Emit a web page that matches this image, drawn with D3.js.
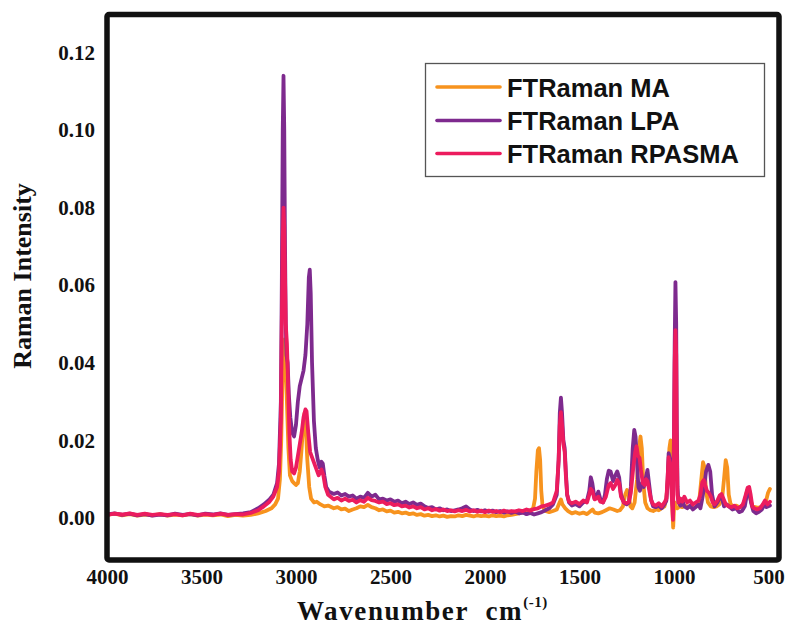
<!DOCTYPE html>
<html>
<head>
<meta charset="utf-8">
<script src="https://cdn.jsdelivr.net/npm/d3@7"></script>
<style>
  html, body { margin: 0; padding: 0; background: #fff; }
  svg { display: block; }
</style>
</head>
<body>
<svg id="chart" width="788" height="627"></svg>
<script>
// FT-Raman spectra: [wavenumber (cm-1), intensity]
const maSpectrum = [
  [4000,0.0008],[3960,0.0011],[3920,0.0007],[3880,0.001],[3840,0.0006],[3800,0.0009],[3760,0.0007],[3720,0.001],
  [3680,0.0006],[3640,0.0009],[3600,0.0007],[3560,0.001],[3520,0.0006],[3480,0.0009],[3440,0.0007],[3400,0.0009],
  [3360,0.0005],[3320,0.0008],[3280,0.0006],[3240,0.0008],[3200,0.0012],[3160,0.0018],[3130,0.0025],[3110,0.0035],
  [3095,0.005],[3085,0.01],[3078,0.02],[3072,0.035],[3066,0.045],[3060,0.046],[3055,0.04],[3048,0.03],[3040,0.018],
  [3032,0.011],[3020,0.0095],[3010,0.009],[3000,0.0085],[2990,0.009],[2980,0.012],[2970,0.018],[2962,0.024],
  [2955,0.027],[2948,0.024],[2940,0.015],[2930,0.008],[2920,0.005],[2905,0.004],[2890,0.0042],[2870,0.0035],
  [2850,0.003],[2830,0.0032],[2800,0.0025],[2780,0.0028],[2760,0.0022],[2740,0.0024],[2720,0.0018],[2700,0.0022],
  [2680,0.0025],[2660,0.003],[2640,0.0028],[2620,0.0034],[2600,0.0028],[2580,0.0025],[2560,0.002],[2540,0.0022],
  [2520,0.0017],[2500,0.0019],[2480,0.0014],[2460,0.0016],[2440,0.0012],[2420,0.0014],[2400,0.001],[2380,0.0012],
  [2360,0.0008],[2340,0.001],[2320,0.0006],[2300,0.0008],[2280,0.0005],[2260,0.0007],[2240,0.0004],[2220,0.0006],
  [2200,0.0003],[2180,0.0005],[2160,0.0004],[2140,0.0007],[2120,0.0005],[2100,0.0008],[2080,0.0006],[2060,0.0004],
  [2040,0.0007],[2020,0.0005],[2000,0.0006],[1980,0.0004],[1960,0.0007],[1940,0.0005],[1920,0.0006],[1900,0.0004],
  [1880,0.0007],[1860,0.0008],[1840,0.001],[1820,0.0012],[1800,0.0015],[1780,0.0018],[1760,0.002],[1745,0.0025],
  [1735,0.005],[1728,0.012],[1720,0.0175],[1714,0.018],[1708,0.015],[1702,0.007],[1695,0.003],[1680,0.0018],
  [1660,0.0015],[1640,0.0018],[1620,0.0022],[1605,0.004],[1598,0.0048],[1590,0.0035],[1575,0.0025],[1560,0.0018],
  [1540,0.0012],[1520,0.0015],[1500,0.0011],[1480,0.0014],[1460,0.001],[1440,0.0018],[1430,0.0022],[1420,0.0014],
  [1400,0.0012],[1380,0.0015],[1360,0.002],[1340,0.0025],[1320,0.0022],[1300,0.0018],[1285,0.002],[1270,0.003],
  [1258,0.006],[1248,0.0072],[1240,0.006],[1230,0.003],[1220,0.0025],[1208,0.004],[1195,0.01],[1185,0.018],
  [1177,0.021],[1170,0.018],[1162,0.009],[1152,0.004],[1140,0.0025],[1125,0.002],[1110,0.0018],[1095,0.0022],
  [1080,0.002],[1065,0.0025],[1050,0.003],[1040,0.005],[1032,0.01],[1024,0.018],[1018,0.02],[1012,0.012],
  [1008,0.002],[1004,-0.0025],[1000,0.002],[996,0.004],[990,0.003],[982,0.0025],[970,0.003],[955,0.0028],
  [940,0.0032],[925,0.0028],[910,0.003],[895,0.0026],[880,0.003],[865,0.005],[855,0.01],[846,0.0144],
  [838,0.013],[830,0.007],[820,0.004],[805,0.003],[790,0.0028],[775,0.003],[760,0.0035],[745,0.005],
  [735,0.01],[726,0.0149],[718,0.013],[710,0.006],[700,0.0035],[685,0.003],[670,0.0032],[655,0.0028],
  [640,0.003],[625,0.0045],[612,0.0072],[604,0.0075],[596,0.005],[585,0.003],[570,0.0028],[555,0.0026],
  [540,0.0028],[525,0.003],[512,0.0045],[502,0.0065],[492,0.0075]
];

const lpaSpectrum = [
  [4000,0.0009],[3960,0.0012],[3920,0.0008],[3880,0.0011],[3840,0.0007],[3800,0.001],[3760,0.0006],[3720,0.0009],
  [3680,0.0007],[3640,0.0011],[3600,0.0008],[3560,0.001],[3520,0.0007],[3480,0.0011],[3440,0.0009],[3400,0.0012],
  [3360,0.0008],[3320,0.001],[3280,0.0012],[3240,0.0015],[3200,0.0025],[3170,0.0035],[3140,0.0048],[3120,0.006],
  [3100,0.009],[3090,0.014],[3080,0.03],[3075,0.06],[3070,0.1],[3066,0.114],[3062,0.1],[3058,0.07],[3054,0.05],
  [3050,0.042],[3044,0.04],[3038,0.032],[3030,0.026],[3020,0.022],[3010,0.021],[3000,0.024],[2990,0.03],
  [2980,0.034],[2970,0.036],[2960,0.038],[2950,0.042],[2940,0.05],[2932,0.062],[2927,0.064],[2922,0.058],
  [2915,0.04],[2905,0.025],[2895,0.018],[2885,0.015],[2875,0.013],[2865,0.0145],[2858,0.014],[2850,0.011],
  [2840,0.008],[2825,0.0068],[2800,0.0062],[2780,0.0066],[2760,0.0058],[2740,0.0062],[2720,0.0055],[2700,0.0058],
  [2680,0.005],[2660,0.0055],[2640,0.0052],[2620,0.0065],[2600,0.0055],[2580,0.006],[2560,0.0048],[2540,0.005],
  [2520,0.0045],[2500,0.0048],[2480,0.0042],[2460,0.0045],[2440,0.0038],[2420,0.0042],[2400,0.0036],[2380,0.004],
  [2360,0.0034],[2340,0.0037],[2320,0.003],[2300,0.0026],[2280,0.0028],[2260,0.0022],[2240,0.0025],[2220,0.002],
  [2200,0.0022],[2180,0.0018],[2160,0.002],[2140,0.0022],[2120,0.0025],[2100,0.003],[2080,0.0022],[2060,0.0018],
  [2040,0.0021],[2020,0.0017],[2000,0.002],[1980,0.0016],[1960,0.0019],[1940,0.0015],[1920,0.0018],[1900,0.0014],
  [1880,0.0017],[1860,0.0013],[1840,0.0016],[1820,0.0012],[1800,0.0014],[1780,0.001],[1760,0.0013],[1740,0.0009],
  [1720,0.0012],[1700,0.0015],[1680,0.002],[1660,0.0025],[1640,0.0035],[1620,0.006],[1610,0.015],[1604,0.027],
  [1598,0.031],[1592,0.027],[1585,0.02],[1578,0.018],[1572,0.012],[1565,0.006],[1555,0.004],[1540,0.0032],
  [1520,0.0036],[1500,0.003],[1480,0.004],[1460,0.0045],[1448,0.007],[1440,0.0105],[1432,0.009],[1420,0.005],
  [1410,0.0055],[1400,0.0068],[1390,0.005],[1375,0.004],[1365,0.006],[1355,0.01],[1345,0.0122],[1335,0.012],
  [1322,0.0095],[1310,0.011],[1300,0.012],[1290,0.0105],[1280,0.006],[1265,0.004],[1250,0.0035],[1238,0.004],
  [1228,0.008],[1218,0.018],[1210,0.0227],[1203,0.021],[1196,0.015],[1188,0.008],[1180,0.007],[1170,0.009],
  [1160,0.008],[1150,0.01],[1140,0.0124],[1132,0.009],[1122,0.005],[1110,0.003],[1095,0.0028],[1080,0.0032],
  [1065,0.0025],[1050,0.0035],[1040,0.0045],[1034,0.009],[1028,0.0167],[1020,0.015],[1012,0.008],[1006,0.003],
  [1000,0.02],[996,0.045],[992,0.0608],[988,0.05],[985,0.025],[981,0.008],[976,0.004],[965,0.0032],[955,0.0045],
  [945,0.003],[930,0.0025],[915,0.0032],[900,0.0022],[885,0.0028],[870,0.0035],[860,0.0025],[850,0.005],
  [840,0.008],[830,0.012],[818,0.0137],[808,0.012],[798,0.006],[785,0.003],[770,0.004],[755,0.0055],[745,0.005],
  [735,0.003],[720,0.0035],[705,0.0028],[690,0.0022],[670,0.0025],[655,0.0015],[640,0.0018],[625,0.003],
  [612,0.0065],[602,0.0072],[592,0.004],[580,0.0018],[565,0.0012],[550,0.0016],[535,0.0022],[520,0.0035],
  [510,0.0028],[492,0.0032]
];

const rpasmaSpectrum = [
  [4000,0.0008],[3960,0.0011],[3920,0.0009],[3880,0.0012],[3840,0.0008],[3800,0.0011],[3760,0.0008],[3720,0.001],
  [3680,0.0008],[3640,0.001],[3600,0.0007],[3560,0.0011],[3520,0.0008],[3480,0.001],[3440,0.0008],[3400,0.0011],
  [3360,0.0008],[3320,0.001],[3280,0.0009],[3240,0.0013],[3200,0.002],[3170,0.003],[3140,0.0042],[3120,0.0055],
  [3100,0.008],[3090,0.012],[3080,0.025],[3075,0.05],[3070,0.072],[3066,0.08],[3062,0.075],[3058,0.062],
  [3054,0.05],[3048,0.045],[3042,0.035],[3035,0.022],[3028,0.015],[3020,0.012],[3010,0.0115],[3000,0.013],
  [2990,0.016],[2980,0.019],[2970,0.022],[2960,0.026],[2950,0.028],[2944,0.0275],[2935,0.022],[2925,0.017],
  [2910,0.015],[2895,0.013],[2880,0.011],[2865,0.0125],[2855,0.011],[2845,0.008],[2830,0.006],[2800,0.0048],
  [2780,0.0052],[2760,0.0045],[2740,0.005],[2720,0.0044],[2700,0.0047],[2680,0.004],[2660,0.0046],[2640,0.0042],
  [2620,0.0052],[2600,0.0046],[2580,0.0044],[2560,0.004],[2540,0.0042],[2520,0.0036],[2500,0.0038],[2480,0.0033],
  [2460,0.0035],[2440,0.003],[2420,0.0032],[2400,0.0027],[2380,0.003],[2360,0.0025],[2340,0.0028],[2320,0.0022],
  [2300,0.0025],[2280,0.002],[2260,0.0023],[2240,0.0019],[2220,0.0022],[2200,0.0018],[2180,0.002],[2160,0.0017],
  [2140,0.002],[2120,0.0018],[2100,0.0021],[2080,0.0017],[2060,0.002],[2040,0.0016],[2020,0.0019],[2000,0.0015],
  [1980,0.0019],[1960,0.0016],[1940,0.0018],[1920,0.0015],[1900,0.0019],[1880,0.0016],[1860,0.0018],[1840,0.0017],
  [1820,0.002],[1800,0.0018],[1780,0.0022],[1760,0.0019],[1740,0.0023],[1720,0.0025],[1700,0.003],[1680,0.0032],
  [1660,0.0035],[1640,0.004],[1620,0.007],[1610,0.015],[1604,0.024],[1598,0.0273],[1592,0.024],[1585,0.019],
  [1578,0.017],[1572,0.011],[1565,0.006],[1555,0.0042],[1540,0.0038],[1520,0.0042],[1500,0.0036],[1480,0.0045],
  [1460,0.004],[1448,0.006],[1440,0.0075],[1432,0.007],[1420,0.0048],[1410,0.005],[1400,0.0055],[1390,0.0042],
  [1375,0.004],[1360,0.0055],[1345,0.0085],[1335,0.009],[1322,0.0075],[1310,0.0085],[1300,0.0098],[1290,0.009],
  [1280,0.0055],[1265,0.004],[1250,0.0038],[1238,0.0042],[1228,0.0065],[1215,0.013],[1205,0.017],[1198,0.0185],
  [1190,0.016],[1182,0.0155],[1175,0.0125],[1165,0.009],[1155,0.0085],[1148,0.01],[1140,0.0095],[1130,0.007],
  [1120,0.0045],[1110,0.0035],[1095,0.0032],[1080,0.0038],[1065,0.003],[1050,0.004],[1040,0.005],[1034,0.01],
  [1028,0.0157],[1020,0.014],[1012,0.006],[1005,-0.0005],[1000,0.018],[996,0.04],[992,0.0484],[988,0.042],
  [985,0.02],[981,0.006],[976,0.004],[965,0.005],[955,0.0042],[945,0.0055],[930,0.004],[915,0.0045],[900,0.0035],
  [885,0.004],[870,0.0045],[860,0.006],[850,0.0092],[842,0.0098],[835,0.0085],[825,0.007],[815,0.0065],
  [805,0.0055],[795,0.004],[785,0.0035],[770,0.0045],[758,0.0058],[748,0.0062],[738,0.005],[725,0.0035],
  [710,0.003],[695,0.0028],[680,0.0032],[665,0.0025],[650,0.0028],[635,0.0035],[620,0.006],[610,0.0078],
  [602,0.008],[594,0.006],[585,0.003],[575,0.0025],[560,0.0022],[545,0.0025],[530,0.0035],[518,0.0045],
  [505,0.0035],[492,0.0042]
];

const seriesNames = ["FTRaman MA", "FTRaman LPA", "FTRaman RPASMA"];
const seriesColors = ["#f7931e", "#7e2a8e", "#ec1c5e"];
const xTickValues = [4000, 3500, 3000, 2500, 2000, 1500, 1000, 500];
const yTickValues = [0.00, 0.02, 0.04, 0.06, 0.08, 0.10, 0.12];

const svg = d3.select("#chart");
const frame = { left: 107, right: 779, top: 14.5, bottom: 560 };

const x = d3.scaleLinear().domain([4000, 444]).range([frame.left, frame.right]);
const y = d3.scaleLinear().domain([0, 0.12]).range([518, 52.5]);

svg.append("defs").append("clipPath").attr("id", "plotClip")
  .append("rect")
  .attr("x", frame.left).attr("y", frame.top)
  .attr("width", frame.right - frame.left).attr("height", frame.bottom - frame.top);

// spectra, drawn MA -> LPA -> RPASMA
const line = d3.line().x(d => x(d[0])).y(d => y(d[1])).curve(d3.curveLinear);
const spectra = [maSpectrum, lpaSpectrum, rpasmaSpectrum];
svg.append("g").attr("clip-path", "url(#plotClip)")
  .selectAll("path").data(spectra).join("path")
  .attr("d", line)
  .attr("fill", "none")
  .attr("stroke", (d, i) => seriesColors[i])
  .attr("stroke-width", 3.8)
  .attr("stroke-linejoin", "round")
  .attr("stroke-linecap", "round");

// frame
svg.append("rect")
  .attr("x", frame.left).attr("y", frame.top)
  .attr("width", frame.right - frame.left).attr("height", frame.bottom - frame.top)
  .attr("rx", 2)
  .attr("fill", "none").attr("stroke", "#111").attr("stroke-width", 5.5);

// axes (labels only)
const tickFont = "'Liberation Serif', 'Times New Roman', serif";
const xAxis = svg.append("g")
  .attr("transform", `translate(0,${frame.bottom})`)
  .call(d3.axisBottom(x).tickValues(xTickValues).tickFormat(d3.format("d")).tickSize(0).tickPadding(9));
const yAxis = svg.append("g")
  .attr("transform", `translate(${frame.left},0)`)
  .call(d3.axisLeft(y).tickValues(yTickValues).tickFormat(d3.format(".2f")).tickSize(0).tickPadding(12));
[xAxis, yAxis].forEach(g => {
  g.select(".domain").remove();
  g.selectAll("text")
    .attr("font-family", tickFont).attr("font-weight", "bold")
    .attr("font-size", 21).attr("fill", "#111");
});

// axis titles
svg.append("text")
  .attr("transform", "translate(31,276) rotate(-90)")
  .attr("text-anchor", "middle")
  .attr("font-family", tickFont).attr("font-weight", "bold").attr("font-size", 26)
  .attr("fill", "#111")
  .text("Raman Intensity");

const xTitle = svg.append("text")
  .attr("x", 297).attr("y", 620)
  .attr("font-family", tickFont).attr("font-weight", "bold").attr("font-size", 27)
  .attr("letter-spacing", 1.6)
  .attr("fill", "#111");
xTitle.append("tspan").text("Wavenumber");
xTitle.append("tspan").attr("dx", 17).text("cm");
xTitle.append("tspan").attr("font-size", 15).attr("dy", -13).attr("letter-spacing", 0.5).text("(-1)");

// legend
const legend = svg.append("g");
legend.append("rect")
  .attr("x", 425.5).attr("y", 63.5).attr("width", 339).attr("height", 113)
  .attr("fill", "#fff").attr("stroke", "#555").attr("stroke-width", 1.3);
const rowY = [87, 120.5, 153.5];
seriesNames.forEach((name, i) => {
  legend.append("line")
    .attr("x1", 437).attr("x2", 500).attr("y1", rowY[i]).attr("y2", rowY[i])
    .attr("stroke", seriesColors[i]).attr("stroke-width", 3.6).attr("stroke-linecap", "round");
  legend.append("text")
    .attr("x", 507).attr("y", rowY[i] + 9.5)
    .attr("font-family", "'Liberation Sans', Arial, sans-serif").attr("font-weight", "bold")
    .attr("font-size", 25.5).attr("fill", "#111")
    .text(name);
});
</script>
</body>
</html>
